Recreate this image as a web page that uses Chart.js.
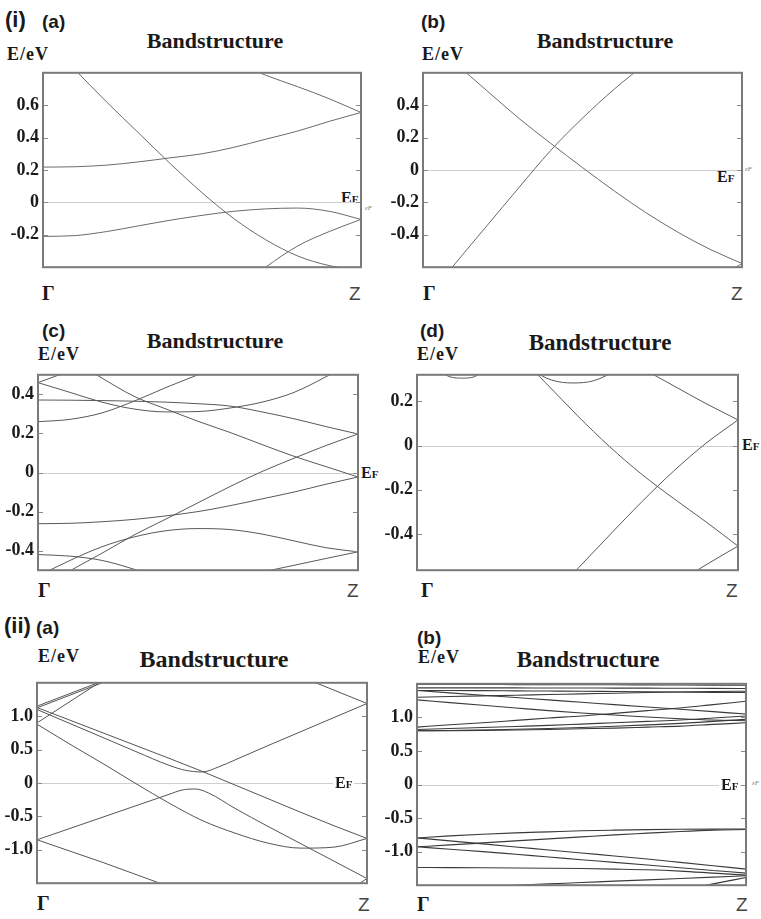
<!DOCTYPE html>
<html>
<head>
<meta charset="utf-8">
<script src="https://cdn.jsdelivr.net/npm/chart.js@4.4.1/dist/chart.umd.min.js"></script>
<style>
    body { margin: 0; background: #fff; }
    #page { position: relative; width: 761px; height: 919px; overflow: hidden; }
    #page canvas { position: absolute; }
    .t { position: absolute; line-height: 1; white-space: nowrap; color: #1a1a1a; }
    .tag { font-family: "Liberation Sans", Arial, sans-serif; font-weight: bold; }
    .title { font-family: "Liberation Serif", "Times New Roman", "DejaVu Serif", serif; font-weight: bold; transform: translateX(-50%); }
    .unit { font-family: "Liberation Serif", "Times New Roman", "DejaVu Serif", serif; font-weight: bold; font-size: 18px; letter-spacing: 1px; }
    .gam { font-family: "Liberation Serif", "Times New Roman", "DejaVu Serif", serif; font-weight: bold; font-size: 20px; }
    .zee { font-family: "Liberation Sans", sans-serif; font-size: 19px; color: #444; }
    .ef { font-family: "Liberation Serif", "Times New Roman", "DejaVu Serif", serif; font-weight: bold; font-size: 16px; }
    .ef small { font-size: 11px; }
    .ef.bg { background: #fff; padding: 0 2px; z-index: 2; }
    .eps { font-family: "Liberation Serif", serif; font-style: italic; font-size: 7px; color: #777; }
</style>
</head>
<body>
<div id="page">
    <!-- (i) (a) -->
    <div class="t tag" style="left:5px;top:9px;font-size:22px">(i)</div>
    <div class="t tag" style="left:42px;top:12px;font-size:19px">(a)</div>
    <div class="t title" style="left:215px;top:30px;font-size:22px">Bandstructure</div>
    <div class="t unit" style="left:7px;top:45px">E/eV</div>
    <div class="t gam" style="left:42px;top:283px">Γ</div>
    <div class="t zee" style="left:349px;top:284px">Z</div>
    <div class="t ef" style="left:341px;top:190px">E<small>F</small></div>
    <div class="t eps" style="left:365px;top:205px">εF</div>

    <!-- (i) (b) -->
    <div class="t tag" style="left:421px;top:12px;font-size:19px">(b)</div>
    <div class="t title" style="left:605px;top:30px;font-size:22px">Bandstructure</div>
    <div class="t unit" style="left:422px;top:45px">E/eV</div>
    <div class="t gam" style="left:423px;top:283px">Γ</div>
    <div class="t zee" style="left:731px;top:284px">Z</div>
    <div class="t ef" style="left:717px;top:169px">E<small>F</small></div>
    <div class="t eps" style="left:745px;top:166px">εF</div>

    <!-- (c) -->
    <div class="t tag" style="left:42px;top:321px;font-size:19px">(c)</div>
    <div class="t title" style="left:215px;top:330px;font-size:22px">Bandstructure</div>
    <div class="t unit" style="left:38px;top:345px">E/eV</div>
    <div class="t gam" style="left:38px;top:580px">Γ</div>
    <div class="t zee" style="left:347px;top:581px">Z</div>
    <div class="t ef" style="left:361px;top:465px">E<small>F</small></div>

    <!-- (d) -->
    <div class="t tag" style="left:420px;top:321px;font-size:19px">(d)</div>
    <div class="t title" style="left:600px;top:331px;font-size:23px">Bandstructure</div>
    <div class="t unit" style="left:417px;top:345px">E/eV</div>
    <div class="t gam" style="left:421px;top:580px">Γ</div>
    <div class="t zee" style="left:726px;top:581px">Z</div>
    <div class="t ef" style="left:742px;top:437px">E<small>F</small></div>

    <!-- (ii) (a) -->
    <div class="t tag" style="left:4px;top:615px;font-size:22px">(ii)</div>
    <div class="t tag" style="left:36px;top:618px;font-size:19px">(a)</div>
    <div class="t title" style="left:214px;top:647px;font-size:24px">Bandstructure</div>
    <div class="t unit" style="left:38px;top:647px">E/eV</div>
    <div class="t gam" style="left:37px;top:893px">Γ</div>
    <div class="t zee" style="left:358px;top:895px">Z</div>
    <div class="t ef bg" style="left:333px;top:775px">E<small>F</small></div>

    <!-- (ii) (b) -->
    <div class="t tag" style="left:417px;top:628px;font-size:19px">(b)</div>
    <div class="t title" style="left:588px;top:648px;font-size:23px">Bandstructure</div>
    <div class="t unit" style="left:418px;top:648px">E/eV</div>
    <div class="t gam" style="left:417px;top:894px">Γ</div>
    <div class="t zee" style="left:736px;top:895px">Z</div>
    <div class="t ef bg" style="left:719px;top:777px">E<small>F</small></div>
    <div class="t eps" style="left:752px;top:780px">εF</div>
</div>
<script>
// k-path positions (Γ = 0, Z = 1)
const gridK = [0, 0.1, 0.2, 0.3, 0.4, 0.5, 0.6, 0.7, 0.8, 0.9, 1];
const headK = [0, 0.1, 0.2];
const tailK = [0.6, 0.7, 0.8, 0.9, 1];

// (i)(a) bands, eV
const ia1 = [1.02, 0.82, 0.62, 0.43, 0.24, 0.06, -0.1, -0.23, -0.33, -0.39, -0.42];
const ia2 = [0.218, 0.22, 0.23, 0.25, 0.275, 0.30, 0.34, 0.39, 0.44, 0.50, 0.555];
const ia3 = [-0.21, -0.205, -0.18, -0.145, -0.11, -0.08, -0.055, -0.04, -0.035, -0.055, -0.105];
const ia4 = [0.87, 0.785, 0.715, 0.64, 0.555];
const ia5 = [-0.55, -0.40, -0.27, -0.18, -0.105];
const iaTicks = [-0.2, 0, 0.2, 0.4, 0.6];

// (i)(b)
const ib1 = [0.82, 0.66, 0.49, 0.32, 0.165, 0.015, -0.13, -0.265, -0.385, -0.49, -0.577];
const ibK2 = [0, 0.1, 0.2, 0.3, 0.4, 0.5, 0.6, 0.7];
const ib2 = [-0.82, -0.58, -0.345, -0.11, 0.12, 0.32, 0.50, 0.66];
const ibK3 = [0.9, 1];
const ib3 = [-0.70, -0.577];
const ibTicks = [-0.4, -0.2, 0, 0.2, 0.4];

// (c)
const cK1 = [0, 0.1];
const c1 = [0.46, 0.52];
const c2 = [0.46, 0.41, 0.36, 0.325, 0.31, 0.312, 0.33, 0.36, 0.41, 0.49, 0.58];
const c3 = [0.371, 0.37, 0.368, 0.365, 0.36, 0.352, 0.34, 0.31, 0.275, 0.235, 0.197];
const cK4 = [0, 0.1, 0.2, 0.3, 0.4, 0.5, 0.6];
const c4 = [0.26, 0.272, 0.305, 0.365, 0.435, 0.50, 0.565];
const cK5 = [0.1, 0.2, 0.3, 0.4, 0.5, 0.6, 0.7, 0.8, 0.9, 1];
const c5 = [0.58, 0.483, 0.39, 0.325, 0.262, 0.205, 0.143, 0.083, 0.03, -0.023];
const c6 = [-0.60, -0.503, -0.413, -0.32, -0.238, -0.155, -0.072, 0.005, 0.073, 0.138, 0.197];
const c7 = [-0.262, -0.26, -0.252, -0.24, -0.222, -0.20, -0.17, -0.135, -0.10, -0.06, -0.023];
const c8 = [-0.53, -0.45, -0.38, -0.33, -0.298, -0.287, -0.292, -0.315, -0.35, -0.385, -0.406];
const cK9 = [0, 0.1, 0.2, 0.3, 0.4];
const c9 = [-0.42, -0.428, -0.45, -0.495, -0.55];
const c10 = [-0.55, -0.51, -0.475, -0.44, -0.406];
const cTicks = [-0.4, -0.2, 0, 0.2, 0.4];

// (d)
const dK1 = [0.07, 0.1, 0.143, 0.18, 0.21];
const d1 = [0.34, 0.312, 0.305, 0.312, 0.34];
const dK2 = [0.35, 0.42, 0.486, 0.55, 0.63];
const d2 = [0.345, 0.296, 0.283, 0.293, 0.345];
const dK3 = [0.3, 0.4, 0.5, 0.6, 0.7, 0.8, 0.9, 1];
const d3 = [0.43, 0.285, 0.135, -0.005, -0.13, -0.24, -0.345, -0.455];
const dK4 = [0.4, 0.5, 0.6, 0.7, 0.8, 0.9, 1];
const d4 = [-0.71, -0.558, -0.405, -0.255, -0.115, 0.01, 0.116];
const dK5 = [0.7, 0.8, 0.9, 1];
const d5 = [0.35, 0.27, 0.19, 0.116];
const dK6 = [0.8, 0.9, 1];
const d6 = [-0.63, -0.54, -0.455];
const dTicks = [-0.4, -0.2, 0, 0.2];

// (ii)(a)
const aK1 = [0, 0.1, 0.2, 0.3, 0.4, 0.45, 0.5, 0.55, 0.6, 0.7, 0.8, 0.9, 1];
const a1 = [1.10, 0.89, 0.68, 0.47, 0.265, 0.19, 0.165, 0.24, 0.345, 0.56, 0.77, 0.98, 1.19];
const a2 = [1.13, 0.94, 0.75, 0.56, 0.37, 0.175, -0.03, -0.235, -0.44, -0.64, -0.83];
const a3 = [0.88, 0.58, 0.29, -0.01, -0.30, -0.56, -0.75, -0.90, -0.975, -0.96, -0.83];
const aK4 = [0, 0.1, 0.2, 0.3, 0.4, 0.44, 0.48, 0.52, 0.6, 0.7, 0.8, 0.9, 1];
const a4 = [-0.85, -0.68, -0.51, -0.34, -0.17, -0.105, -0.09, -0.15, -0.38, -0.65, -0.91, -1.17, -1.43];
const aK5 = [0, 0.1, 0.2, 0.3, 0.4];
const a5 = [-0.85, -1.02, -1.19, -1.37, -1.55];
const a6 = [1.15, 1.34, 1.53];
const a7 = [1.125, 1.315, 1.505];
const a8 = [0.90, 1.22, 1.54];
const aK9 = [0.8, 0.9, 1];
const a9 = [1.59, 1.39, 1.19];
const aK10 = [0.9, 1];
const a10 = [-1.75, -1.43];
const iiTicks = [-1.0, -0.5, 0, 0.5, 1.0];

// (ii)(b)
const b1 = [1.49, 1.49, 1.49, 1.488, 1.487, 1.486, 1.485, 1.484, 1.482, 1.48, 1.478];
const b2 = [1.44, 1.44, 1.44, 1.439, 1.438, 1.437, 1.436, 1.435, 1.433, 1.432, 1.43];
const b3 = [1.40, 1.365, 1.33, 1.295, 1.26, 1.225, 1.19, 1.155, 1.12, 1.085, 1.05];
const b4 = [1.30, 1.31, 1.32, 1.33, 1.34, 1.35, 1.36, 1.37, 1.378, 1.385, 1.39];
const b5 = [1.40, 1.40, 1.398, 1.395, 1.392, 1.389, 1.385, 1.381, 1.377, 1.373, 1.37];
const b6 = [1.26, 1.22, 1.18, 1.14, 1.10, 1.065, 1.035, 1.005, 0.98, 0.96, 0.95];
const b7 = [0.855, 0.89, 0.92, 0.955, 0.99, 1.02, 1.06, 1.10, 1.14, 1.19, 1.24];
const b8 = [0.82, 0.835, 0.85, 0.865, 0.88, 0.90, 0.92, 0.94, 0.96, 0.99, 1.02];
const b9 = [0.80, 0.802, 0.806, 0.812, 0.82, 0.83, 0.84, 0.855, 0.87, 0.895, 0.92];
const b10 = [0.80, 0.805, 0.812, 0.822, 0.835, 0.85, 0.868, 0.888, 0.91, 0.94, 0.97];
const m1 = [-0.796, -0.765, -0.74, -0.72, -0.705, -0.69, -0.68, -0.672, -0.667, -0.664, -0.663];
const m2 = [-0.796, -0.84, -0.885, -0.93, -0.975, -1.02, -1.065, -1.11, -1.16, -1.21, -1.26];
const m3 = [-0.928, -0.90, -0.87, -0.84, -0.81, -0.78, -0.75, -0.725, -0.70, -0.68, -0.67];
const m4 = [-0.928, -0.965, -1.0, -1.04, -1.08, -1.12, -1.16, -1.20, -1.24, -1.28, -1.32];
const m5 = [-1.237, -1.238, -1.24, -1.243, -1.247, -1.252, -1.26, -1.27, -1.29, -1.32, -1.35];
const mK6 = [0.2, 0.3, 0.4, 0.5, 0.6, 0.7, 0.8, 0.9, 1];
const m6 = [-1.525, -1.50, -1.48, -1.46, -1.44, -1.42, -1.40, -1.38, -1.36];
const mK7 = [0.8, 0.9, 1];
const m7 = [-1.58, -1.48, -1.385];

const framePlugin = {
    id: 'frame',
    beforeDatasetsDraw(chart) {
        const ctx = chart.ctx;
        const area = chart.chartArea;
        const y0 = Math.round(chart.scales.y.getPixelForValue(0)) + 0.5;
        ctx.save();
        ctx.strokeStyle = '#cfcfcf';
        ctx.lineWidth = 1;
        ctx.beginPath();
        ctx.moveTo(area.left, y0);
        ctx.lineTo(area.right, y0);
        ctx.stroke();
        ctx.restore();
    },
    afterDatasetsDraw(chart) {
        const ctx = chart.ctx;
        const area = chart.chartArea;
        ctx.save();
        ctx.strokeStyle = '#8a8a8a';
        ctx.lineWidth = 1;
        chart.scales.y.ticks.forEach(function (t) {
            const y = Math.round(chart.scales.y.getPixelForValue(t.value)) + 0.5;
            ctx.beginPath();
            ctx.moveTo(area.left, y);
            ctx.lineTo(area.left + 5, y);
            ctx.moveTo(area.right - 5, y);
            ctx.lineTo(area.right, y);
            ctx.stroke();
        });
        ctx.strokeStyle = '#7a7a7a';
        ctx.lineWidth = 2;
        ctx.strokeRect(area.left, area.top, area.right - area.left, area.bottom - area.top);
        ctx.restore();
    }
};

function drawPanel(box, yMin, yMax, yTicks, bands, color, width) {
    const canvas = document.createElement('canvas');
    canvas.width = box[2] - box[0] + 47;
    canvas.height = box[3] - box[1] + 4;
    canvas.style.left = (box[0] - 44) + 'px';
    canvas.style.top = (box[1] - 2) + 'px';
    document.getElementById('page').appendChild(canvas);

    new Chart(canvas, {
        type: 'line',
        data: {
            datasets: bands.map(function (b) {
                return {
                    data: b[0].map(function (k, i) { return { x: k, y: b[1][i] }; }),
                    borderColor: color,
                    borderWidth: width,
                    pointRadius: 0,
                    fill: false,
                    cubicInterpolationMode: 'monotone'
                };
            })
        },
        options: {
            responsive: false,
            animation: false,
            devicePixelRatio: 1,
            layout: { padding: { top: 2, bottom: 2, right: 3, left: 0 } },
            plugins: { legend: { display: false }, tooltip: { enabled: false } },
            scales: {
                x: { type: 'linear', min: 0, max: 1, display: false },
                y: {
                    min: yMin,
                    max: yMax,
                    grid: { display: false, drawTicks: false },
                    border: { display: false },
                    afterBuildTicks: function (scale) {
                        scale.ticks = yTicks.map(function (v) { return { value: v }; });
                    },
                    afterFit: function (scale) { scale.width = 44; },
                    ticks: {
                        autoSkip: false,
                        padding: 4,
                        color: '#1a1a1a',
                        font: { family: '"Liberation Serif", "Times New Roman", serif', weight: 'bold', size: 18 },
                        callback: function (v) { return v === 0 ? '0' : v.toFixed(1); }
                    }
                }
            }
        },
        plugins: [framePlugin]
    });
}

document.addEventListener('DOMContentLoaded', function () {
    drawPanel([43, 60, 361, 280], -0.4, 0.8, iaTicks,
        [[gridK, ia1], [gridK, ia2], [gridK, ia3], [tailK, ia4], [tailK, ia5]], '#6a6a6a', 1);

    drawPanel([423, 60, 742, 280], -0.6, 0.6, ibTicks,
        [[gridK, ib1], [ibK2, ib2], [ibK3, ib3]], '#6a6a6a', 1);

    drawPanel([38, 362, 358, 583], -0.5, 0.5, cTicks,
        [[cK1, c1], [gridK, c2], [gridK, c3], [cK4, c4], [cK5, c5], [gridK, c6],
         [gridK, c7], [gridK, c8], [cK9, c9], [tailK, c10]], '#5a5a5a', 1);

    drawPanel([417, 362, 738, 583], -0.564, 0.32, dTicks,
        [[dK1, d1], [dK2, d2], [dK3, d3], [dK4, d4], [dK5, d5], [dK6, d6]], '#5a5a5a', 1);

    drawPanel([37, 670, 367, 896], -1.5, 1.5, iiTicks,
        [[aK1, a1], [gridK, a2], [gridK, a3], [aK4, a4], [aK5, a5], [headK, a6],
         [headK, a7], [headK, a8], [aK9, a9], [aK10, a10]], '#555555', 1);

    drawPanel([417, 671, 746, 898], -1.5, 1.5, iiTicks,
        [[gridK, b1], [gridK, b2], [gridK, b3], [gridK, b4], [gridK, b5], [gridK, b6],
         [gridK, b7], [gridK, b8], [gridK, b9], [gridK, b10], [gridK, m1], [gridK, m2],
         [gridK, m3], [gridK, m4], [gridK, m5], [mK6, m6], [mK7, m7]], '#3a3a3a', 1.1);
});
</script>
</body>
</html>
